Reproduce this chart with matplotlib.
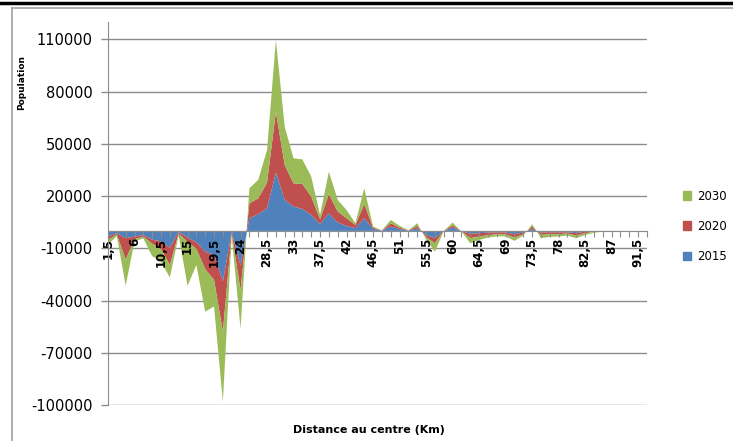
import numpy as np
import matplotlib
matplotlib.use("Agg")
from matplotlib import pyplot as plt
from matplotlib.lines import Line2D
from matplotlib.patches import Patch

plt.rcParams['axes.unicode_minus'] = False
plt.rcParams['font.family'] = ['DejaVu Sans']

# distance categories (km), 1.5 step
distances = ["1,5", "3", "4,5", "6", "7,5", "9", "10,5", "12", "13,5", "15",
             "16,5", "18", "19,5", "21", "22,5", "24", "25,5", "27", "28,5", "30",
             "31,5", "33", "34,5", "36", "37,5", "39", "40,5", "42", "43,5", "45",
             "46,5", "48", "49,5", "51", "52,5", "54", "55,5", "57", "58,5", "60",
             "61,5", "63", "64,5", "66", "67,5", "69", "70,5", "72", "73,5", "75",
             "76,5", "78", "79,5", "81", "82,5", "84", "85,5", "87", "88,5", "90",
             "91,5", "93"]

pop_2015 = [-3300, -1300, -4200, -3300, -2400, -5000, -6000, -9700, -500, -4000,
            -6400, -12000, -13800, -29000, -700, -20000, 7300, 9600, 13000, 33500,
            17800, 14000, 12600, 9200, 4000, 10100, 4800, 2900, 1500, 7300,
            1200, 100, 2500, 1100, 200, 1500, -2300, -4200, 0, 1900,
            -100, -1700, -1300, -1000, -800, -900, -1900, -900, 1100, -900,
            -800, -800, -800, -1300, -400, -200, -100, -100, 0, 0,
            0, 0]
pop_2020 = [-1900, -800, -12300, -1500, -900, -2400, -4500, -9900, -1000, -2400,
            -3900, -10000, -14300, -29000, -800, -14000, 8600, 9100, 14700, 34900,
            20100, 13300, 14400, 10500, 2700, 11100, 6300, 4400, 1900, 8200,
            700, 100, 1900, 800, 100, 1400, -1300, -2900, 0, 1300,
            -100, -2500, -1900, -1500, -1100, -1000, -1900, -1000, 1400, -1400,
            -1100, -1100, -700, -1400, -900, -400, -100, 0, 0, 0,
            0, 0]
pop_2030 = [-2800, -800, -15000, -1200, -1000, -7100, -7000, -7200, -1000, -25100,
            -9300, -24400, -15300, -40000, -1500, -22000, 8600, 10600, 18800, 41200,
            21900, 14400, 14100, 11500, 2500, 12800, 6700, 4700, 1000, 9000,
            600, 100, 1900, 1000, 100, 1500, -1200, -4800, 0, 1600,
            -100, -2900, -2000, -1300, -1200, -1200, -1900, -800, 1300, -1900,
            -1500, -1300, -1200, -1500, -1000, -400, -200, -100, -100, 0,
            0, 0]

years = ["2015", "2020", "2030"]
colors = ["#4F81BD", "#C0504D", "#9BBB59"]
y_ticks = np.arange(-100000, 110001, 30000)

fig = plt.figure(figsize=(7.33, 4.41), dpi=100)
ax = fig.add_axes([108 / 733, 1 - 405 / 441, (647 - 108) / 733, (405 - 22) / 441])

for s in ['top', 'right']:
    ax.spines[s].set_visible(False)
ax.spines['bottom'].set_position(('data', 0))
ax.spines['bottom'].set_color("#8C8C8C")
ax.spines['left'].set_color("#8C8C8C")

x = np.arange(len(distances))
ax.stackplot(x, pop_2015, pop_2020, pop_2030, colors=colors, zorder=1, linewidth=0)

for yv in y_ticks:
    ax.axhline(yv, color="#8C8C8C", lw=1, zorder=0.5)

ax.set_xlim(0, len(distances) - 1)
ax.set_ylim(-100000, 120000)
ax.tick_params(axis='y', length=5, width=1, color="#8C8C8C", pad=6)
ax.tick_params(axis='x', length=4, width=0.8, color="#8C8C8C", pad=1)
ax.set_yticks(y_ticks)
ax.set_yticklabels([str(v) for v in y_ticks], fontsize=10.5)
ax.set_xticks(x)
ax.set_xticklabels([d if i % 3 == 0 else "" for i, d in enumerate(distances)],
                   rotation=90, fontsize=8.5, fontweight='bold')

fig.text(369 / 733, 1 - 430 / 441, "Distance au centre (Km)", ha='center', va='center',
         fontsize=8, fontweight='bold')
fig.text(22 / 733, 1 - 83 / 441, "Population", ha='center', va='center',
         rotation=90, fontsize=6.5, fontweight='bold')

handles = [Patch(color=colors[k], label=years[k]) for k in [2, 1, 0]]
fig.legend(handles=handles, loc='upper left', bbox_to_anchor=(672 / 733, 1 - 179 / 441),
           frameon=False, fontsize=8.5, handlelength=0.7, handleheight=0.7,
           handletextpad=0.5, labelspacing=1.45)

# outer frame and top rule
fig.add_artist(Line2D([0, 1], [1 - 3 / 441, 1 - 3 / 441], color='black', lw=2.5))
fig.add_artist(Line2D([12 / 733, 1], [1 - 8 / 441, 1 - 8 / 441], color='#A0A0A0', lw=1.2))
fig.add_artist(Line2D([12 / 733, 12 / 733], [0, 1 - 8 / 441], color='#A0A0A0', lw=1.2))

fig.savefig("out.png", dpi=100)
